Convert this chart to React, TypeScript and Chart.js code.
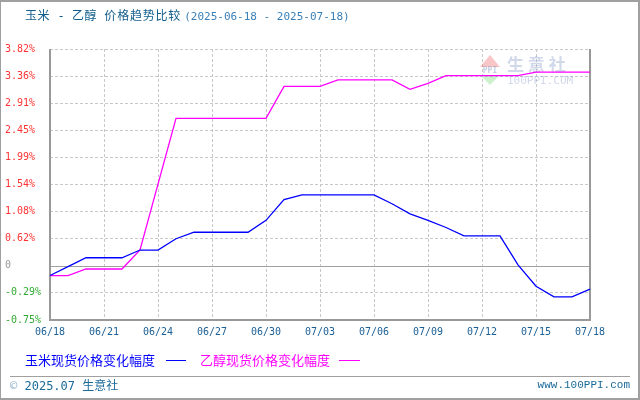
import React, { useEffect, useRef } from "react";
import { Chart, registerables } from "chart.js";

Chart.register(...registerables);

const dates = [
  "06/18", "06/19", "06/20", "06/21", "06/22", "06/23", "06/24", "06/25", "06/26", "06/27",
  "06/28", "06/29", "06/30", "07/01", "07/02", "07/03", "07/04", "07/05", "07/06", "07/07",
  "07/08", "07/09", "07/10", "07/11", "07/12", "07/13", "07/14", "07/15", "07/16", "07/17", "07/18",
];

const cornChange = [
  0, 0.15, 0.3, 0.3, 0.3, 0.43, 0.43, 0.62, 0.73, 0.73,
  0.73, 0.73, 0.93, 1.28, 1.36, 1.36, 1.36, 1.36, 1.36, 1.21,
  1.04, 0.93, 0.81, 0.67, 0.67, 0.67, 0.18, -0.18, -0.36, -0.36, -0.23,
];

const ethanolChange = [
  0, 0, 0.11, 0.11, 0.11, 0.43, 1.54, 2.65, 2.65, 2.65,
  2.65, 2.65, 2.65, 3.19, 3.19, 3.19, 3.3, 3.3, 3.3, 3.3,
  3.14, 3.24, 3.37, 3.37, 3.37, 3.37, 3.37, 3.43, 3.43, 3.43, 3.43,
];

const yTickValues = [-0.75, -0.293, 0.164, 0.621, 1.078, 1.535, 1.992, 2.449, 2.906, 3.363, 3.82];
const yTickLabels = ["-0.75%", "-0.29%", "0", "0.62%", "1.08%", "1.54%", "1.99%", "2.45%", "2.91%", "3.36%", "3.82%"];

const titleMain = "玉米 - 乙醇 价格趋势比较";
const titleRange = "(2025-06-18 - 2025-07-18)";
const seriesNames = ["玉米现货价格变化幅度", "乙醇现货价格变化幅度"];
const seriesColors = ["#0000ff", "#ff00ff"];
const footerLeft = "© 2025.07 生意社";
const footerRight = "www.100PPI.com";

const MONO = "'DejaVu Sans Mono', 'Liberation Mono', monospace";
const CJK = "'Noto Sans CJK SC', 'Noto Sans', sans-serif";

const framePlugin = {
  id: "frame",
  beforeDatasetsDraw(chart: any) {
    const { ctx, chartArea } = chart;
    const { left, right, top, bottom } = chartArea;
    ctx.save();
    // watermark
    const wx = right - 110;
    const wy = top + 6;
    ctx.globalAlpha = 0.45;
    ctx.fillStyle = "#f08080";
    ctx.beginPath();
    ctx.moveTo(wx + 10, wy);
    ctx.lineTo(wx + 20, wy + 12);
    ctx.lineTo(wx, wy + 12);
    ctx.closePath();
    ctx.fill();
    ctx.fillStyle = "#90e090";
    ctx.beginPath();
    ctx.moveTo(wx, wy + 20);
    ctx.lineTo(wx + 20, wy + 20);
    ctx.lineTo(wx + 10, wy + 30);
    ctx.closePath();
    ctx.fill();
    ctx.fillStyle = "#8090c0";
    ctx.font = "bold 8px " + MONO;
    ctx.textAlign = "center";
    ctx.textBaseline = "middle";
    ctx.fillText("PPI", wx + 10, wy + 16);
    ctx.font = "bold 17px " + CJK;
    ctx.textAlign = "left";
    ctx.fillStyle = "#9aa8d0";
    ctx.fillText("生 意 社", wx + 27, wy + 10);
    ctx.font = "11px " + MONO;
    ctx.fillText("100PPI.COM", wx + 27, wy + 26);
    ctx.globalAlpha = 1;

    // zero line
    const zy = Math.round(chart.scales.y.getPixelForValue(yTickValues[2])) + 0.5;
    ctx.strokeStyle = "#a0a0a0";
    ctx.lineWidth = 1;
    ctx.beginPath();
    ctx.moveTo(left, zy);
    ctx.lineTo(right, zy);
    ctx.stroke();

    // frame
    ctx.strokeStyle = "#999999";
    ctx.lineWidth = 2;
    ctx.beginPath();
    ctx.moveTo(left, top);
    ctx.lineTo(left, bottom);
    ctx.lineTo(right, bottom);
    ctx.lineTo(right, top);
    ctx.stroke();
    ctx.restore();
  },
};

function App() {
  const canvasRef = useRef<HTMLCanvasElement | null>(null);

  useEffect(() => {
    document.body.style.margin = "0";
    const canvas = canvasRef.current;
    if (!canvas) return;
    const chart = new Chart(canvas, {
      type: "line",
      data: {
        labels: dates,
        datasets: [
          {
            label: seriesNames[0],
            data: cornChange,
            borderColor: seriesColors[0],
            borderWidth: 1.3,
            pointRadius: 0,
            tension: 0,
            fill: false,
          },
          {
            label: seriesNames[1],
            data: ethanolChange,
            borderColor: seriesColors[1],
            borderWidth: 1.3,
            pointRadius: 0,
            tension: 0,
            fill: false,
          },
        ],
      },
      options: {
        responsive: false,
        animation: false,
        events: [],
        layout: { padding: { top: 49, right: 50, bottom: 55, left: 5 } },
        plugins: {
          legend: { display: false },
          tooltip: { enabled: false },
          title: { display: false },
        },
        scales: {
          x: {
            type: "category",
            offset: false,
            afterFit: (s: any) => {
              s.height = 25;
            },
            grid: {
              color: (c: any) => (c.index % 3 === 0 ? "#c8c8c8" : "rgba(0,0,0,0)"),
              drawTicks: false,
              lineWidth: 1,
            },
            border: { display: false, dash: [3, 2] },
            ticks: {
              autoSkip: false,
              maxRotation: 0,
              minRotation: 0,
              padding: 6,
              color: "#1a5f95",
              font: { family: MONO, size: 10 },
              callback: (_v: any, i: number) => (i % 3 === 0 ? dates[i] : ""),
            },
          },
          y: {
            type: "linear",
            min: yTickValues[0],
            max: yTickValues[yTickValues.length - 1],
            afterFit: (s: any) => {
              s.width = 45;
            },
            afterBuildTicks: (s: any) => {
              s.ticks = yTickValues.map((v) => ({ value: v }));
            },
            grid: {
              color: (c: any) => (c.index === 2 ? "rgba(0,0,0,0)" : "#c8c8c8"),
              drawTicks: false,
              lineWidth: 1,
            },
            border: { display: false, dash: [3, 2] },
            ticks: {
              crossAlign: "far",
              padding: 0,
              font: { family: MONO, size: 10 },
              color: (c: any) => (c.index > 2 ? "#ff3333" : c.index === 2 ? "#999999" : "#33aa33"),
              callback: (_v: any, i: number) => yTickLabels[i],
            },
          },
        },
      },
      plugins: [framePlugin],
    } as any);
    return () => chart.destroy();
  }, []);

  return (
    <div style={{ position: "relative", width: 640, height: 400, background: "#fff", overflow: "hidden" }}>
      <canvas ref={canvasRef} width={640} height={400} style={{ position: "absolute", left: 0, top: 0 }} />
      <div
        style={{
          position: "absolute",
          left: 25,
          top: 6,
          whiteSpace: "pre",
          lineHeight: "18px",
          fontFamily: MONO + ", " + CJK,
        }}
      >
        <span style={{ fontSize: 12, color: "#105c8c", fontFamily: CJK, letterSpacing: 0.6 }}>
          {"玉米"}
        </span>
        <span style={{ fontSize: 12, color: "#105c8c", fontFamily: MONO }}>{" - "}</span>
        <span style={{ fontSize: 12, color: "#105c8c", fontFamily: CJK, letterSpacing: 0.6 }}>{"乙醇"}</span>
        <span style={{ fontSize: 12, color: "#105c8c", fontFamily: MONO }}>{" "}</span>
        <span style={{ fontSize: 12, color: "#105c8c", fontFamily: CJK, letterSpacing: 0.8 }}>{"价格趋势比较"}</span>
        <span style={{ fontSize: 11, color: "#3a80b8", fontFamily: MONO, marginLeft: 3 }}>{titleRange}</span>
      </div>
      <span style={{ display: "none" }}>{titleMain}</span>
      {/* legend */}
      <div
        style={{
          position: "absolute",
          left: 25,
          top: 351,
          fontFamily: CJK,
          fontSize: 13,
          lineHeight: "18px",
          whiteSpace: "pre",
          color: seriesColors[0],
        }}
      >
        {seriesNames[0]}
      </div>
      <div style={{ position: "absolute", left: 166, top: 360, width: 20, height: 1, background: seriesColors[0] }} />
      <div
        style={{
          position: "absolute",
          left: 200,
          top: 351,
          fontFamily: CJK,
          fontSize: 13,
          lineHeight: "18px",
          whiteSpace: "pre",
          color: seriesColors[1],
        }}
      >
        {seriesNames[1]}
      </div>
      <div style={{ position: "absolute", left: 339, top: 360, width: 21, height: 1, background: seriesColors[1] }} />
      {/* footer */}
      <div style={{ position: "absolute", left: 10, top: 376, width: 620, height: 1, background: "#a0a0a0" }} />
      <div
        style={{
          position: "absolute",
          left: 10,
          top: 377,
          fontSize: 12,
          lineHeight: "16px",
          whiteSpace: "pre",
          color: "#1a6a9a",
          fontFamily: MONO + ", " + CJK,
        }}
      >
        <span style={{ color: "#8fb0cc" }}>©</span>
        <span>{" 2025.07 "}</span>
        <span style={{ fontFamily: CJK }}>{"生意社"}</span>
      </div>
      <div
        style={{
          position: "absolute",
          right: 10,
          top: 377,
          fontSize: 11,
          lineHeight: "16px",
          color: "#1a6a9a",
          fontFamily: "'Liberation Mono', " + MONO,
        }}
      >
        {footerRight}
      </div>
      {/* outer border */}
      <div
        style={{
          position: "absolute",
          inset: 0,
          boxSizing: "border-box",
          borderTop: "2px solid #a0a0a0",
          borderRight: "2px solid #a0a0a0",
          borderBottom: "2px solid #a0a0a0",
          borderLeft: "1px solid #a0a0a0",
          pointerEvents: "none",
        }}
      />
    </div>
  );
}

export default App;
